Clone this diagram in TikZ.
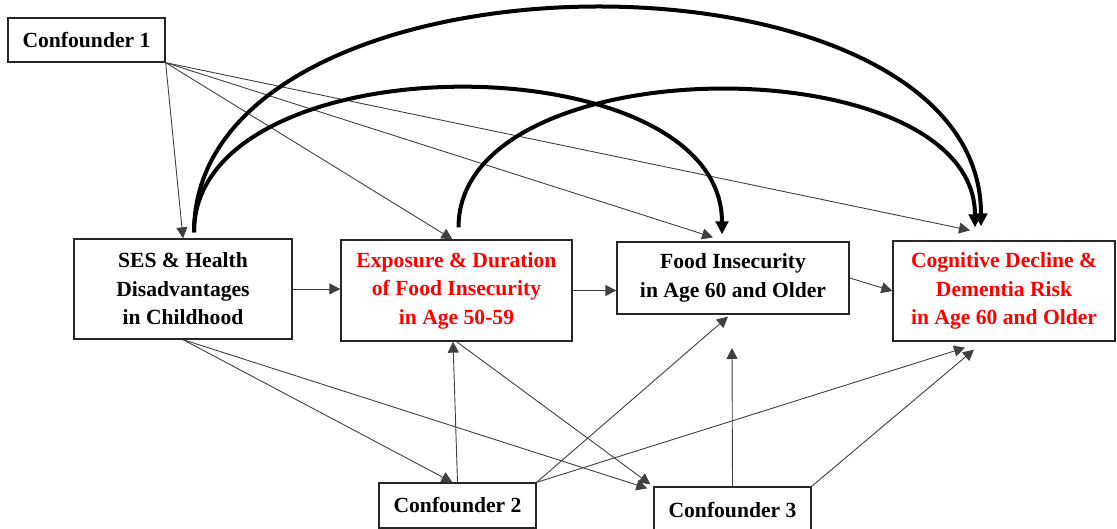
\documentclass[tikz,border=0pt]{standalone}
\usepackage{fontspec}
\setmainfont{Liberation Serif}
\usetikzlibrary{arrows.meta}
\definecolor{txtred}{RGB}{255,0,0}
\tikzset{
  box/.style={draw=black!85, line width=1.3pt, fill=white, inner sep=0pt, align=center,
    font=\bfseries\fontsize{21.6pt}{28.5pt}\selectfont},
  thin/.style={draw=black!75, line width=0.9pt, -{Triangle[length=11pt,width=11pt]}},
  thick/.style={draw=black, line width=4pt, -{Triangle[length=13pt,width=12.5pt]}},
}
\begin{document}
\begin{tikzpicture}[x=1pt,y=-1pt]
\useasboundingbox (0,0) rectangle (1117,529);
\clip (0,0) rectangle (1117,529);
% nodes
\node[box, minimum width=157pt, minimum height=44pt] (c1) at (86.5,40) {Confounder 1};
\node[box, minimum width=218pt, minimum height=100pt] (ses) at (183,289) {SES \& Health\\Disadvantages\\in Childhood};
\node[box, minimum width=231pt, minimum height=101pt, text=txtred] (exp) at (456.5,290.5) {Exposure \& Duration\\of Food Insecurity\\in Age 50-59};
\node[box, minimum width=232pt, minimum height=72pt] (food) at (733,278) {Food Insecurity\\in Age 60 and Older};
\node[box, minimum width=222pt, minimum height=100pt, text=txtred] (cog) at (1004,291) {Cognitive Decline \&\\Dementia Risk\\in Age 60 and Older};
\node[box, minimum width=157pt, minimum height=45pt] (c2) at (457.5,505.5) {Confounder 2};
\node[box, minimum width=157pt, minimum height=46pt] (c3) at (732.5,510) {Confounder 3};
\coordinate (c3tip) at (732,348);

% confounder 1 arrows
\draw[thin] (c1.south east) -- (ses.north);
\draw[thin] (c1.south east) -- ([xshift=-4pt]exp.north);
\draw[thin] (c1.south east) -- ([xshift=-20pt,yshift=4pt]food.north);
\draw[thin] (c1.south east) -- ([xshift=-34pt,yshift=10pt]cog.north);

% main chain
\draw[thin] (ses.east) -- (ses.east -| exp.west);
\draw[thin] (exp.east) -- (exp.east -| food.west);
\draw[thin] (food.east) -- (cog.west);

% thick arcs
\draw[thick] ([xshift=11pt,yshift=6pt]ses.north) .. controls +(0,-296) and +(0,-294) .. ([xshift=-23pt,yshift=14pt]cog.north);
\draw[thick] ([xshift=11pt,yshift=6pt]ses.north) .. controls +(0,-193) and +(0,-194) .. ([xshift=-11pt,yshift=7pt]food.north);
\draw[thick] ([xshift=2pt,yshift=12pt]exp.north) .. controls +(0,-183) and +(0,-183) .. ([xshift=-29pt,yshift=13pt]cog.north);

% lower arrows
\draw[thin] (ses.south) -- ([xshift=-5pt]c2.north);
\draw[thin] (ses.south) -- ([xshift=-6pt,yshift=-2pt]c3.north west);
\draw[thin] (exp.south) -- ([xshift=-3pt,yshift=2pt]c3.north west);
\draw[thin] (c2.north) -- ([xshift=-3.5pt]exp.south);
\draw[thin] (c2.north east) -- ([xshift=-5pt,yshift=-2pt]food.south);
\draw[thin] (c2.north east) -- ([xshift=-39pt,yshift=-6pt]cog.south);
\draw[thin] (c3.north) -- (c3tip);
\draw[thin] (c3.north east) -- ([xshift=-30pt,yshift=-8pt]cog.south);
\end{tikzpicture}
\end{document}
